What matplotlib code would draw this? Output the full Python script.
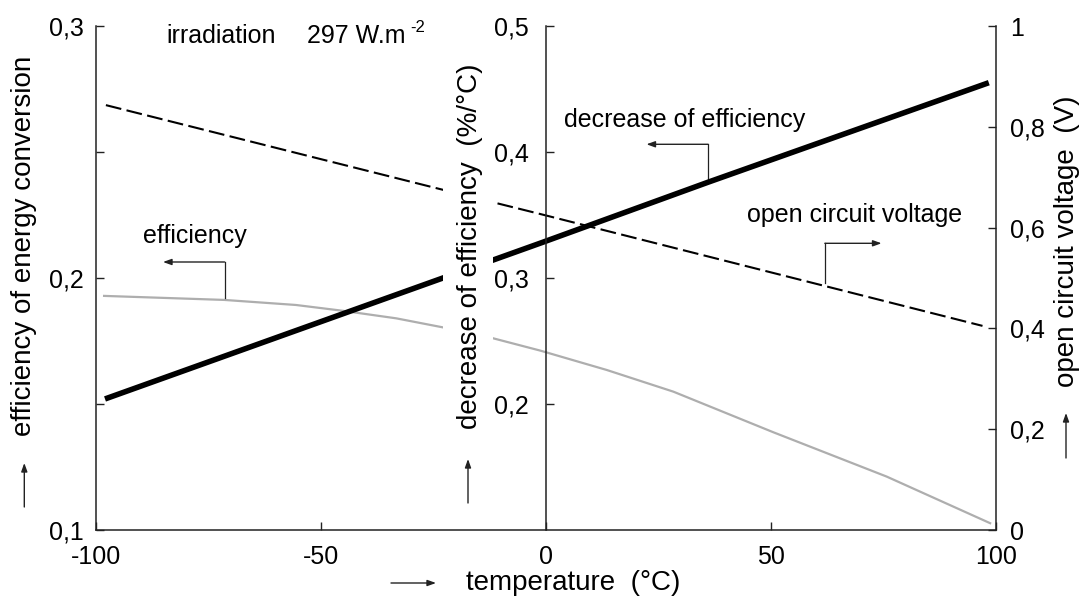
import matplotlib
matplotlib.use('Agg')
import matplotlib.pyplot as plt

plt.rcParams['font.family'] = ['Liberation Sans', 'DejaVu Sans']

# data
temp_eff = [-98.2, -71.5, -55.6, -45.2, -33.3, -22.6, -11.8, -1.3, 13.5, 28.3, 50.5, 75.7, 98.7]
efficiency = [0.1929, 0.1913, 0.1893, 0.1870, 0.1840, 0.1803, 0.1761, 0.1712, 0.1635, 0.1549,
              0.1388, 0.1212, 0.1027]

temp_dec = [-98.0, -37.0, -1.0, 36.0, 98.4]
decrease = [0.204, 0.282, 0.328, 0.376, 0.455]

temp_voc = [-97.8, -23.8, -1.3, 97.0]
voc = [0.843, 0.677, 0.627, 0.405]

x_ticks = [-100, -50, 0, 50, 100]
x_labels = ['-100', '-50', '0', '50', '100']
eff_ticks = [0.1, 0.15, 0.2, 0.25, 0.3]
eff_labels = ['0,1', '', '0,2', '', '0,3']
dec_ticks = [0.2, 0.3, 0.4, 0.5]
dec_labels = ['0,2', '0,3', '0,4', '0,5']
voc_ticks = [0, 0.2, 0.4, 0.6, 0.8, 1.0]
voc_labels = ['0', '0,2', '0,4', '0,6', '0,8', '1']

W, H = 1082, 596
def fx(x):
    return x / W
def fy(y):
    return 1 - y / H

axc = '#222222'
fig = plt.figure(figsize=(W / 100, H / 100), dpi=100)
ax = fig.add_axes([fx(96), fy(530), fx(996) - fx(96), fy(26) - fy(530)])
ax_v = ax.twinx()
ax_d = ax.twinx()

# efficiency (left axis)
ax.plot(temp_eff, efficiency, color='#aeaeae', lw=1.6)
ax.set_xlim(-100, 100)
ax.set_ylim(0.1, 0.3)
ax.set_xticks(x_ticks)
ax.set_xticklabels(x_labels)
ax.set_yticks(eff_ticks)
ax.set_yticklabels(eff_labels)
ax.tick_params(axis='x', direction='in', length=5.6, width=1, color=axc, pad=11, labelsize=18)
ax.tick_params(axis='y', direction='in', length=5.8, width=1, color=axc, pad=8.5, labelsize=18)
for s in ['top', 'right']:
    ax.spines[s].set_visible(False)
for s in ['left', 'bottom']:
    ax.spines[s].set_color(axc)
    ax.spines[s].set_linewidth(1.1)

# open circuit voltage (right axis)
ax_v.plot(temp_voc, voc, color='black', lw=1.5, dashes=(7.6, 2.6))
ax_v.set_ylim(0, 1)
ax_v.set_yticks(voc_ticks)
ax_v.set_yticklabels(voc_labels)
ax_v.tick_params(axis='y', direction='in', length=5.8, width=1, color=axc, pad=10, labelsize=18)
for s in ['top', 'left', 'bottom']:
    ax_v.spines[s].set_visible(False)
ax_v.spines['right'].set_color(axc)
ax_v.spines['right'].set_linewidth(1.1)

# decrease of efficiency (middle axis)
ax_d.plot(temp_dec, decrease, color='black', lw=4, solid_capstyle='butt')
ax_d.set_ylim(0.1, 0.5)
ax_d.yaxis.set_ticks_position('left')
ax_d.yaxis.set_label_position('left')
ax_d.set_yticks(dec_ticks)
ax_d.set_yticklabels(dec_labels)
ax_d.tick_params(axis='y', direction='in', length=5.8, width=1, color=axc, pad=12.5, labelsize=18)
for s in ['top', 'right', 'bottom']:
    ax_d.spines[s].set_visible(False)
ax_d.spines['left'].set_position(('data', 0))
ax_d.spines['left'].set_color(axc)
ax_d.spines['left'].set_linewidth(1.1)
# white strip behind the middle axis title
ax_d.axvspan(-22.9, -11.8, ymin=0.15, ymax=0.95, color='white', lw=0, zorder=3)

# axis titles
fig.text(fx(24), fy(246), 'efficiency of energy conversion', rotation=90,
         ha='center', va='center', fontsize=20)
fig.text(fx(470), fy(246), 'decrease of efficiency  (%/°C)', rotation=90,
         ha='center', va='center', fontsize=20)
fig.text(fx(1067), fy(241), 'open circuit voltage  (V)', rotation=90,
         ha='center', va='center', fontsize=20)
fig.text(fx(573), fy(590), 'temperature  (°C)', ha='center', va='baseline', fontsize=20)

arrow = dict(arrowstyle='-|>,head_length=0.5,head_width=0.18', color=axc, lw=1,
             shrinkA=0, shrinkB=0, mutation_scale=10)
for (x0, y0, x1, y1) in [(24.3, 507, 24.3, 463), (468, 503, 468, 459),
                         (1066, 458, 1066, 413), (391, 583, 436, 583)]:
    ax.annotate('', xy=(fx(x1), fy(y1)), xytext=(fx(x0), fy(y0)),
                xycoords='figure fraction', textcoords='figure fraction',
                arrowprops=arrow, annotation_clip=False)

# curve annotations
ax.text(-84.4, 0.2933, 'irradiation', fontsize=18, va='baseline')
ax.text(-53.1, 0.2933, '297 W.m', fontsize=18, va='baseline')
ax.text(-30.2, 0.2976, '-2', fontsize=12, va='baseline')
ax.text(-89.6, 0.2139, 'efficiency', fontsize=18, va='baseline')
ax.text(4.0, 0.2600, 'decrease of efficiency', fontsize=18, va='baseline')
ax.text(44.6, 0.2223, 'open circuit voltage', fontsize=18, va='baseline')

for (xa, ya, yb, xb) in [(-71.42, 0.19206, 0.20635, -85.11),
                         (36.0, 0.23889, 0.25306, 22.33),
                         (61.96, 0.19790, 0.21377, 74.56)]:
    ax.plot([xa, xa], [ya, yb], color=axc, lw=0.9)
    ax.annotate('', xy=(xb, yb), xytext=(xa, yb), arrowprops=arrow)

fig.savefig('out.png', dpi=100)
